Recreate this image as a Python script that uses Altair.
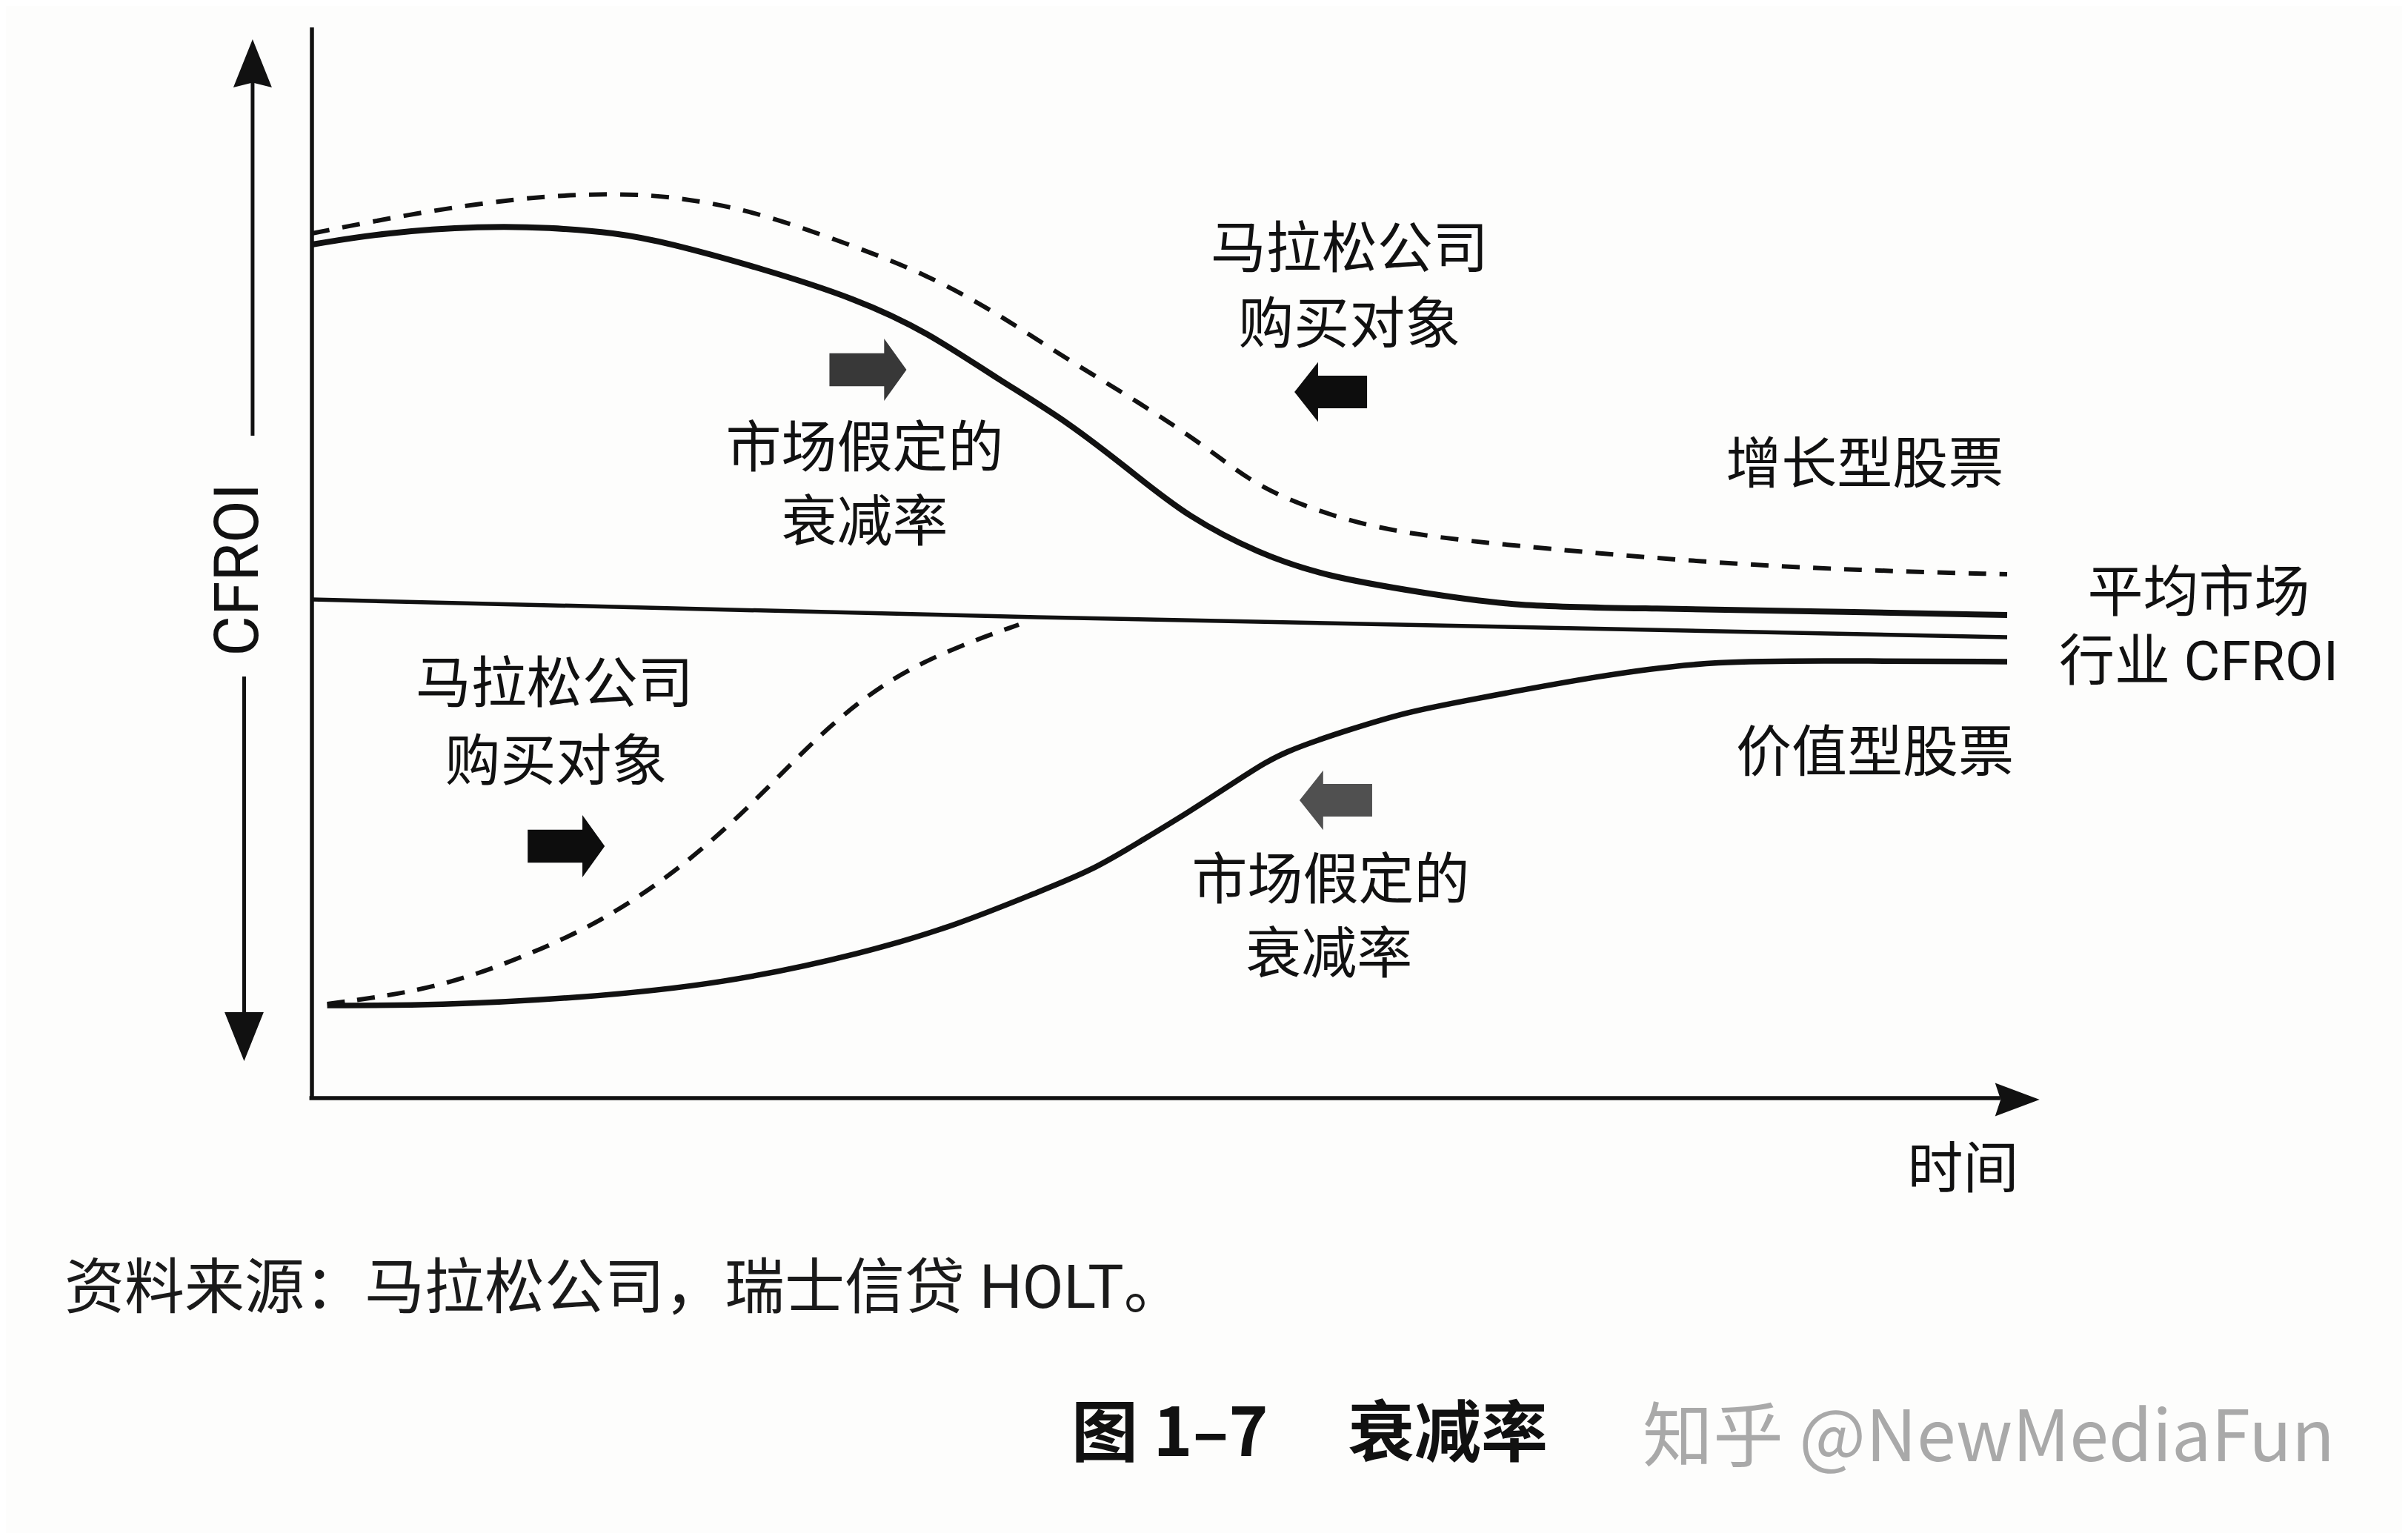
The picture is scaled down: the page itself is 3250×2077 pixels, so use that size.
import altair as alt
import pandas as pd

# ---------------- data (time index 0..100, CFROI in %) ----------------
growth_t = [0, 4.2, 10.1, 14.0, 17.9, 20.9, 26.5, 32.1, 36.3, 40.4, 44.6, 48.8,
            51.6, 55.8, 60.0, 65.3, 70.9, 79.1, 88.7, 100]
growth_c = [22.96, 23.28, 23.46, 23.42, 23.28, 23.02, 22.32, 21.50, 20.60, 19.34,
            18.18, 16.66, 15.64, 14.62, 13.98, 13.58, 13.18, 13.14, 13.06, 12.96]

growth_mkt_t = [0, 6.2, 12.0, 16.0, 19.8, 23.1, 26.5, 32.1, 36.3, 40.4, 44.6, 48.8,
                53.0, 55.8, 60.0, 64.6, 73.0, 82.2, 91.4, 100]
growth_mkt_c = [23.26, 23.82, 24.20, 24.32, 24.32, 24.12, 23.80, 22.90, 22.14, 21.12,
                19.84, 18.70, 17.42, 16.40, 15.64, 15.12, 14.74, 14.38, 14.16, 14.06]

avg_t = [0, 42.8, 100]
avg_c = [13.38, 12.90, 12.36]

value_t = [0.9, 7.4, 15.8, 24.2, 32.5, 38.1, 42.8, 46.0, 48.9, 51.6, 55.2, 57.2,
           61.4, 64.6, 67.7, 76.1, 82.7, 90.9, 100]
value_c = [2.42, 2.42, 2.62, 3.00, 3.82, 4.60, 5.48, 6.06, 6.86, 7.60, 8.68, 9.26,
           9.90, 10.34, 10.62, 11.34, 11.74, 11.72, 11.70]

value_mkt_t = [0.9, 7.4, 13.0, 17.2, 21.4, 25.6, 29.8, 33.9, 38.1, 41.7]
value_mkt_c = [2.46, 2.86, 3.82, 4.72, 6.00, 7.66, 9.70, 11.22, 12.12, 12.70]

# annotation labels
label_text = ["马拉松公司", "购买对象", "市场假定的", "衰减率", "增长型股票",
              "平均市场", "行业 CFROI", "价值型股票", "马拉松公司", "购买对象",
              "市场假定的", "衰减率", "时间"]
label_t = [61.2, 61.2, 32.6, 32.6, 91.6, 111.3, 111.3, 92.2, 14.3, 14.4, 60.1, 60.0, 97.4]
label_c = [22.80, 20.76, 17.42, 15.42, 16.98, 13.52, 11.66, 9.20, 11.06, 8.96, 5.76, 3.76, -2.04]

# block arrows (direction markers)
arrow_t = [32.8, 60.1, 15.0, 60.4]
arrow_c = [19.58, 18.98, 6.72, 7.96]
arrow_dir = ["right", "left", "right", "left"]
arrow_fill = ["#383838", "#0d0d0d", "#0d0d0d", "#505050"]

caption_text = "资料来源：马拉松公司，瑞士信贷 HOLT。"
title_num = "图 1–7"
title_name = "衰减率"
watermark_text = "知乎 @NewMediaFun"

# ---------------- layout ----------------
INK = "#111111"
W, H = 3234, 2061
T_PER_PX = 1 / 22.88      # time units per pixel
C_PER_PX = 1 / 50.0       # CFROI units per pixel
X0, Y0 = 421 - 8, 1478 - 8  # plot-pixel position of the origin
x_dom = [(0 - X0) * T_PER_PX, (W - X0) * T_PER_PX]
y_dom = [(Y0 - H) * C_PER_PX, Y0 * C_PER_PX]

xs = alt.Scale(domain=x_dom, nice=False, zero=False)
ys = alt.Scale(domain=y_dom, nice=False, zero=False)
X = alt.X("t:Q", scale=xs, axis=None)
Y = alt.Y("c:Q", scale=ys, axis=None)


def curve(t, c, width, dash=None, interp="basis"):
    kw = dict(color=INK, strokeWidth=width, interpolate=interp, strokeCap="butt")
    if dash:
        kw["strokeDash"] = dash
    return alt.Chart(pd.DataFrame({"t": t, "c": c})).mark_line(**kw).encode(x=X, y=Y)


growth = curve(growth_t, growth_c, 8)
growth_mkt = curve(growth_mkt_t, growth_mkt_c, 6, dash=[24, 18])
avg = curve(avg_t, avg_c, 5.5, interp="linear")
value = curve(value_t, value_c, 7.5)
value_mkt = curve(value_mkt_t, value_mkt_c, 6, dash=[24, 17])

# axes lines
axis_df = pd.DataFrame({"t": [0, -0.15], "t2": [0, 99.6], "c": [-0.08, -0.08], "c2": [28.82, -0.08]})
axes = alt.Chart(axis_df).mark_rule(color=INK, strokeWidth=5.5).encode(
    x=X, y=Y, x2="t2:Q", y2="c2:Q")

# CFROI double arrow shafts
shaft_df = pd.DataFrame({"t": [-3.5, -4.0], "c": [17.8, 11.3], "c2": [27.5, 2.0]})
shafts = alt.Chart(shaft_df).mark_rule(color=INK, strokeWidth=5).encode(
    x=X, y=Y, y2="c2:Q")

# arrow heads and block arrows as symbol shapes
RIGHT = "M-1,-0.43 L0.42,-0.43 L0.42,-0.81 L1,0 L0.42,0.81 L0.42,0.43 L-1,0.43 Z"
LEFT = "M1,-0.45 L-0.35,-0.45 L-0.35,-0.82 L-1,0 L-0.35,0.82 L-0.35,0.45 L1,0.45 Z"
HEAD_UP = "M0,-1 L0.8,1 L0,0.8 L-0.8,1 Z"
HEAD_DOWN = "M-0.8,-1 L0.8,-1 L0,1 Z"
HEAD_RIGHT = "M1,0 L-1,-0.75 L-0.75,0 L-1,0.75 Z"

sym_t = [-3.5, -4.0, 100.6] + arrow_t
sym_c = [27.85, 1.58, -0.12] + arrow_c
sym_shape = [HEAD_UP, HEAD_DOWN, HEAD_RIGHT] + [RIGHT if d == "right" else LEFT for d in arrow_dir]
sym_size = [65 ** 2, 66 ** 2, 60 ** 2] + [(104 if d == "right" else 98) ** 2 for d in arrow_dir]
sym_fill = [INK, INK, INK] + arrow_fill
sym_df = pd.DataFrame({"t": sym_t, "c": sym_c, "shape": sym_shape, "size": sym_size, "fill": sym_fill})
symbols = alt.Chart(sym_df).mark_point(filled=True, opacity=1, strokeWidth=0).encode(
    x=X, y=Y,
    shape=alt.Shape("shape:N", scale=None),
    size=alt.Size("size:Q", scale=None),
    fill=alt.Fill("fill:N", scale=None),
)

FONT = "Roboto, Noto Sans CJK SC"
labels = alt.Chart(pd.DataFrame({"t": label_t, "c": label_c, "txt": label_text})).mark_text(
    font=FONT, fontSize=75, color=INK, align="center", baseline="middle").encode(
    x=X, y=Y, text="txt:N")

cfroi = alt.Chart(pd.DataFrame({"t": [-4.3], "c": [14.18], "txt": ["CFROI"]})).mark_text(
    font="Roboto", fontSize=84, color=INK, align="center", baseline="middle", angle=270).encode(
    x=X, y=Y, text="txt:N")

caption = alt.Chart(pd.DataFrame({"t": [-14.6], "c": [-5.26], "txt": [caption_text]})).mark_text(
    font=FONT, fontSize=81, color="#1a1a1a", align="left", baseline="middle").encode(
    x=X, y=Y, text="txt:N")

title1 = alt.Chart(pd.DataFrame({"t": [44.8], "c": [-9.2], "txt": [title_num]})).mark_text(
    font="Noto Sans CJK SC", fontSize=90, fontWeight="bold", color=INK, align="left",
    baseline="middle").encode(x=X, y=Y, text="txt:N")
title2 = alt.Chart(pd.DataFrame({"t": [61.1], "c": [-9.2], "txt": [title_name]})).mark_text(
    font="Noto Sans CJK SC", fontSize=90, fontWeight="bold", color=INK, align="left",
    baseline="middle").encode(x=X, y=Y, text="txt:N")

watermark = alt.Chart(pd.DataFrame({"t": [78.5], "c": [-9.3], "txt": [watermark_text]})).mark_text(
    font="Noto Sans CJK SC", fontSize=95, color="#a9a9a9", align="left",
    baseline="middle").encode(x=X, y=Y, text="txt:N")

chart = alt.layer(
    axes, shafts, avg, growth, growth_mkt, value, value_mkt, symbols,
    labels, cfroi, caption, title1, title2, watermark,
).properties(
    width=W, height=H, padding=0, autosize=alt.AutoSizeParams(type="none"),
    background="#fdfdfc",
).configure_view(strokeWidth=0)

chart.save("out.html", embed_options={"renderer": "svg", "actions": False})
